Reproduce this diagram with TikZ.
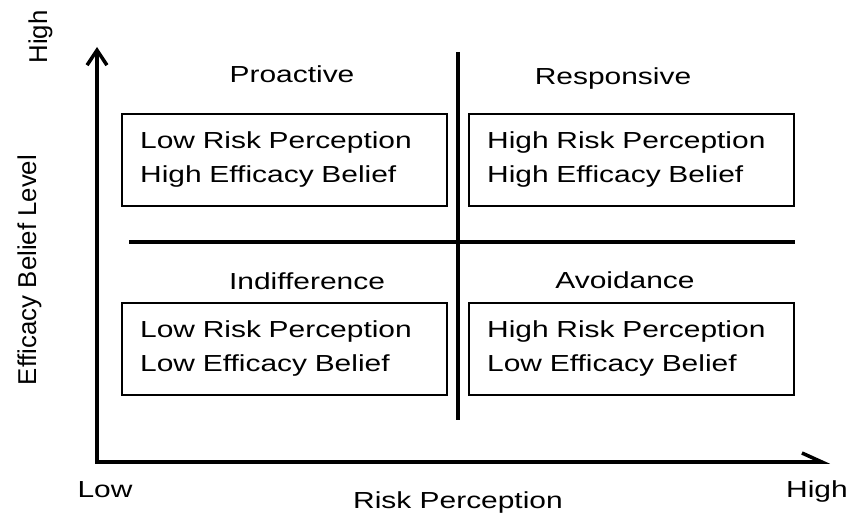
\documentclass[tikz,border=0pt]{standalone}
\usepackage{fontspec}
\setmainfont{Liberation Sans}[FakeStretch=1.29]
\newfontfamily\axisfont{Liberation Sans}
\usetikzlibrary{arrows.meta}

\begin{document}
\begin{tikzpicture}[x=0.03cm, y=-0.03cm,
	title/.style={inner sep=0pt, anchor=base, font=\fontsize{19.8}{29}\selectfont},
	sidetitle/.style={inner sep=0pt, rotate=90, anchor=base, font=\axisfont\fontsize{22}{26}\selectfont},
	quad/.style={draw, line width=1.5pt, anchor=north west, minimum width=9.75cm, minimum height=2.76cm,
		text width=8.65cm, inner xsep=0.55cm, align=left, font=\fontsize{19.8}{29}\selectfont}]
	\useasboundingbox (0,0) rectangle (850,515);
				% axes
				\coordinate(origin) at (97,462);
				\coordinate(ytip) at (97,47);
				\coordinate(xtip) at (830,462);
				\draw[line width=3pt, {Straight Barb[length=12.8pt, width=17pt]}-{Straight Barb[harpoon, length=17pt, width=15.4pt]}] (ytip) -- (origin) -- (xtip);
				% quadrant dividers
				\coordinate(vtop) at (458,52);
				\coordinate(vbot) at (458,420);
				\coordinate(hleft) at (129,242);
				\coordinate(hright) at (795,242);
				\draw[line width=2.6pt] (vtop) -- (vbot);
				\draw[line width=2.6pt] (hleft) -- (hright);
				% quadrants
				\node[quad](proactive) at (121,113){Low Risk Perception\\High Efficacy Belief};
				\node[quad](responsive) at (468,113){High Risk Perception\\High Efficacy Belief};
				\node[quad](indifference) at (121,302){Low Risk Perception\\Low Efficacy Belief};
				\node[quad](avoidance) at (468,302){High Risk Perception\\Low Efficacy Belief};
				\node[title](proactivename) at (292,83){Proactive};
				\node[title](responsivename) at (613,85){Responsive};
				\node[title](indifferencename) at (307,289){Indifference};
				\node[title](avoidancename) at (625,288){Avoidance};
				% axis labels
				\node[title](xlow) at (105,497){Low};
				\node[title](xhigh) at (817,497){High};
				\node[title](xname) at (458,508){Risk Perception};
				\node[sidetitle](yhigh) at (47,37){High};
				\node[sidetitle](yname) at (36,270){Efficacy Belief Level};
			\end{tikzpicture}
\end{document}
